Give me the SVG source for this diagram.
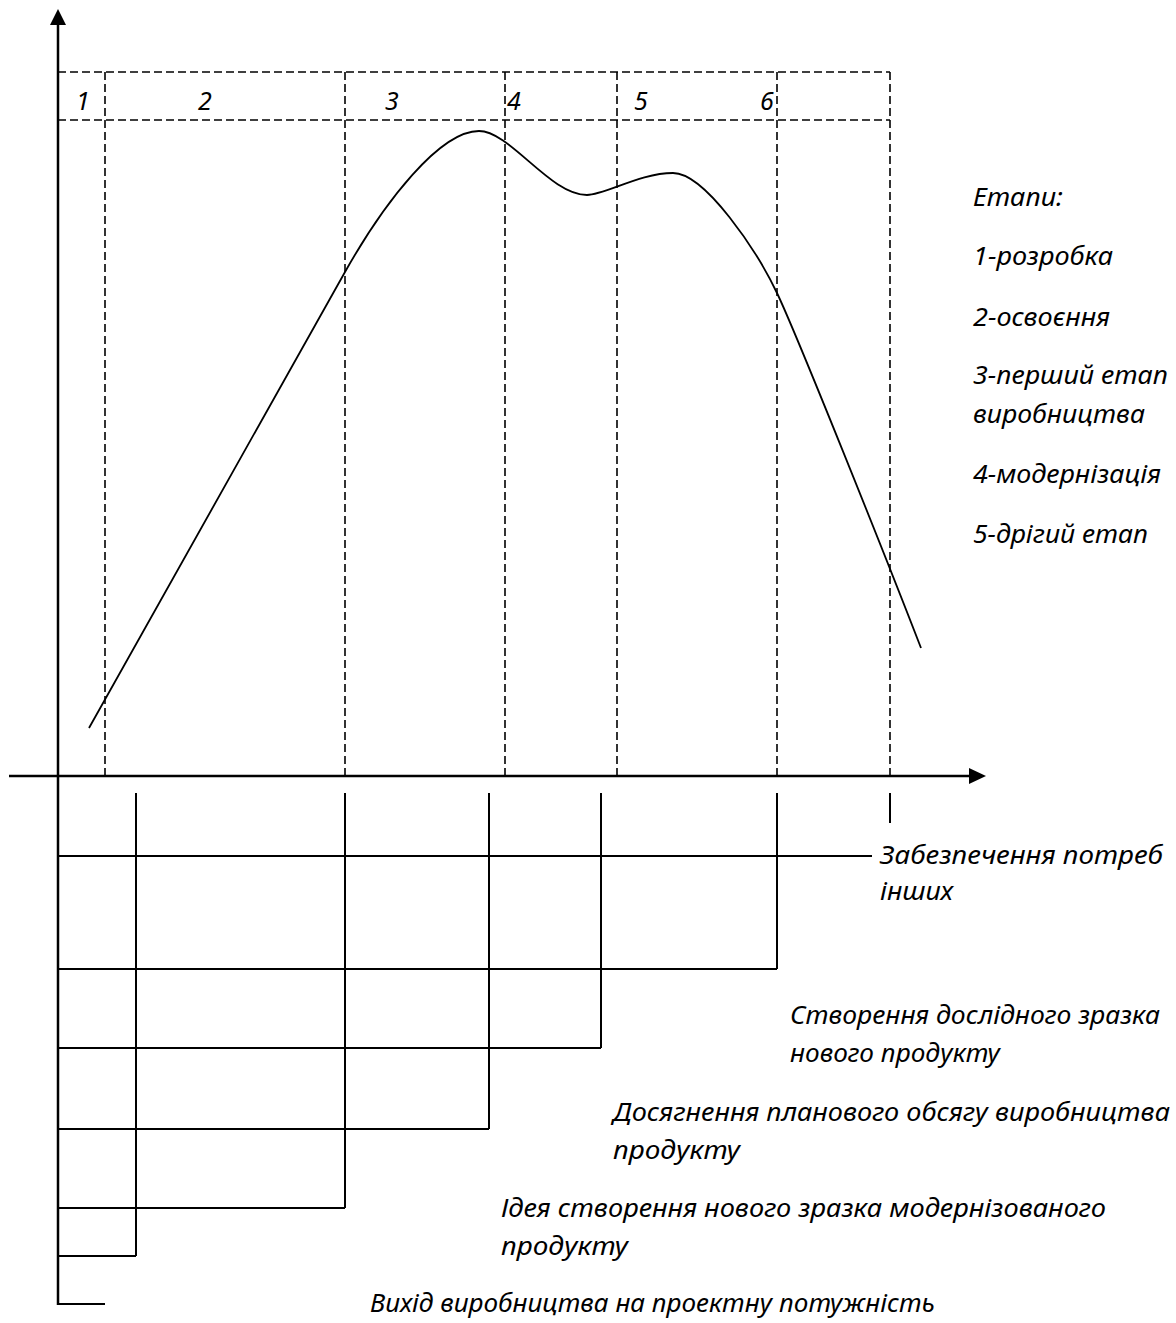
<svg xmlns="http://www.w3.org/2000/svg" width="1176" height="1323" viewBox="0 0 1176 1323">
<style>
.ax{stroke:#000;stroke-width:2.5;fill:none}
.dash{stroke:#000;stroke-width:1.6;stroke-dasharray:8 4;fill:none}
.ln{stroke:#000;stroke-width:2;fill:none}
.cv{stroke:#000;stroke-width:1.8;fill:none}
.t{font-family:"Noto Sans","DejaVu Sans",sans-serif;font-style:italic;font-size:25px;fill:#000}
.n{font-family:"Noto Sans","DejaVu Sans",sans-serif;font-style:italic;font-size:25px;fill:#000}
</style>
<rect width="1176" height="1323" fill="#fff"/>
<g id="axes">
<line class="ax" x1="58" y1="22" x2="58" y2="1305"/>
<polygon points="58,9 50,25 66,25" fill="#000"/>
<line class="ax" x1="9" y1="776" x2="972" y2="776"/>
<polygon points="986,776 969,768 969,784" fill="#000"/>
</g>
<g id="stage-grid">
<line class="dash" x1="58" y1="72" x2="890" y2="72"/>
<line class="dash" x1="58" y1="120" x2="890" y2="120"/>
<line class="dash" x1="105" y1="72" x2="105" y2="776"/>
<line class="dash" x1="345" y1="72" x2="345" y2="776"/>
<line class="dash" x1="505" y1="72" x2="505" y2="776"/>
<line class="dash" x1="617" y1="72" x2="617" y2="776"/>
<line class="dash" x1="777" y1="72" x2="777" y2="776"/>
<line class="dash" x1="890" y1="72" x2="890" y2="776"/>
</g>
<g id="stage-numbers">
<text class="n" x="83" y="110" text-anchor="middle">1</text>
<text class="n" x="205" y="110" text-anchor="middle">2</text>
<text class="n" x="392" y="110" text-anchor="middle">3</text>
<text class="n" x="514" y="110" text-anchor="middle">4</text>
<text class="n" x="641" y="110" text-anchor="middle">5</text>
<text class="n" x="767" y="110" text-anchor="middle">6</text>
</g>
<g id="curve">
<path class="cv" d="M89,728 L345,272 C385,201 440,131 479,131 C510,131 550,195 587,195 C605,195 640,173 673,173 C705,173 757,251 777,293 C797,335 885,555 921,648"/>
</g>
<g id="legend">
<text class="t" x="973" y="206" textLength="90" lengthAdjust="spacingAndGlyphs">Етапи:</text>
<text class="t" x="973" y="265" textLength="140" lengthAdjust="spacingAndGlyphs">1-розробка</text>
<text class="t" x="973" y="326" textLength="137" lengthAdjust="spacingAndGlyphs">2-освоєння</text>
<text class="t" x="973" y="384" textLength="195" lengthAdjust="spacingAndGlyphs">3-перший етап</text>
<text class="t" x="973" y="423" textLength="172" lengthAdjust="spacingAndGlyphs">виробництва</text>
<text class="t" x="973" y="483" textLength="188" lengthAdjust="spacingAndGlyphs">4-модернізація</text>
<text class="t" x="973" y="543" textLength="175" lengthAdjust="spacingAndGlyphs">5-дрігий етап</text>
</g>
<g id="connectors">
<line class="ln" x1="136" y1="793" x2="136" y2="1256"/>
<line class="ln" x1="345" y1="793" x2="345" y2="1208"/>
<line class="ln" x1="489" y1="793" x2="489" y2="1129"/>
<line class="ln" x1="601" y1="793" x2="601" y2="1048"/>
<line class="ln" x1="777" y1="793" x2="777" y2="969"/>
<line class="ln" x1="890" y1="793" x2="890" y2="823"/>
<line class="ln" x1="58" y1="856" x2="872" y2="856"/>
<line class="ln" x1="58" y1="969" x2="777" y2="969"/>
<line class="ln" x1="58" y1="1048" x2="601" y2="1048"/>
<line class="ln" x1="58" y1="1129" x2="489" y2="1129"/>
<line class="ln" x1="58" y1="1208" x2="345" y2="1208"/>
<line class="ln" x1="58" y1="1256" x2="136" y2="1256"/>
<line class="ln" x1="58" y1="1304" x2="105" y2="1304"/>
</g>
<g id="event-labels">
<text class="t" x="880" y="864" textLength="283" lengthAdjust="spacingAndGlyphs">Забезпечення потреб</text>
<text class="t" x="880" y="900" textLength="73" lengthAdjust="spacingAndGlyphs">інших</text>
<text class="t" x="790" y="1024" textLength="370" lengthAdjust="spacingAndGlyphs">Створення дослідного зразка</text>
<text class="t" x="790" y="1062" textLength="210" lengthAdjust="spacingAndGlyphs">нового продукту</text>
<text class="t" x="613" y="1121" textLength="557" lengthAdjust="spacingAndGlyphs">Досягнення планового обсягу виробництва</text>
<text class="t" x="613" y="1159" textLength="127" lengthAdjust="spacingAndGlyphs">продукту</text>
<text class="t" x="501" y="1217" textLength="605" lengthAdjust="spacingAndGlyphs">Ідея створення нового зразка модернізованого</text>
<text class="t" x="501" y="1255" textLength="127" lengthAdjust="spacingAndGlyphs">продукту</text>
<text class="t" x="370" y="1312" textLength="565" lengthAdjust="spacingAndGlyphs">Вихід виробництва на проектну потужність</text>
</g>
</svg>
